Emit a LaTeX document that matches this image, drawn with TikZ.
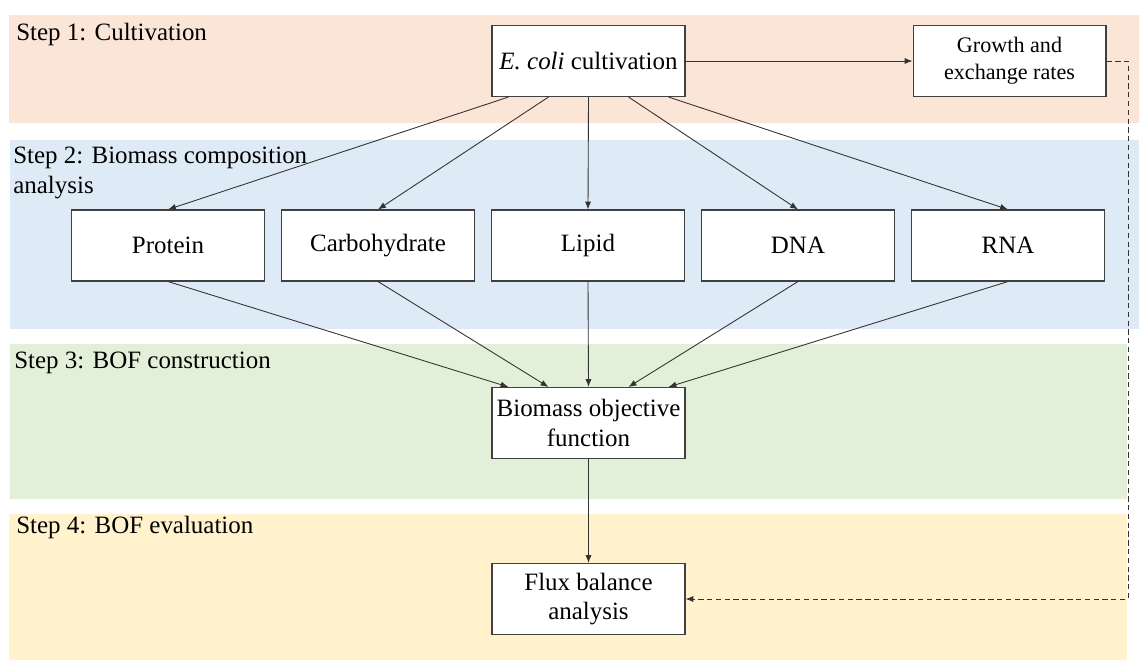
\documentclass[tikz,border=0pt]{standalone}
\usepackage{fontspec}
\setmainfont{Liberation Serif}
\usetikzlibrary{arrows.meta}

\definecolor{cultfill}{HTML}{FBE5D6}
\definecolor{compfill}{HTML}{DEEBF7}
\definecolor{constfill}{HTML}{E2F0D9}
\definecolor{evalfill}{HTML}{FFF2CC}

\newcommand{\boxfont}{\fontsize{14.2}{16.8}\selectfont}
\newcommand{\ratefont}{\fontsize{12.6}{15.4}\selectfont}

\tikzset{
	stagebox/.style = {draw = black!75, fill = white, line width = 0.6pt, minimum width = 3.86cm, minimum height = 1.42cm, align = center, inner sep = 1pt, font = \boxfont},
	steplabel/.style = {inner sep = 0pt, align = left, font = \boxfont},
	flow/.style = {-{Latex[length = 4.5pt, width = 3.5pt]}, draw = black!80, line width = 0.5pt},
}

\begin{document}
\begin{tikzpicture}[x = 0.02cm, y = -0.02cm]

\useasboundingbox (0,0) rectangle (1139, 660);

\fill[cultfill] (9, 15) rectangle (1139, 123);
\fill[compfill] (10, 140) rectangle (1139, 329);
\fill[constfill] (10, 344) rectangle (1127, 499);
\fill[evalfill] (9, 514) rectangle (1127, 660);

\node[steplabel, anchor = base west] (step1) at (16, 40) {Step 1: Cultivation};
\node[steplabel, anchor = north west] (step2) at (13, 147) {Step 2: Biomass composition\\analysis};
\node[steplabel, anchor = base west] (step3) at (14, 368) {Step 3: BOF construction};
\node[steplabel, anchor = base west] (step4) at (16, 533) {Step 4: BOF evaluation};

\node[stagebox] (ecoli) at (588.5, 61) {\textit{E. coli} cultivation};
\node[stagebox, font = \ratefont] (rates) at (1009.5, 61) {Growth and\\exchange rates};
\node[stagebox] (bof) at (588.5, 423) {Biomass objective\\function};
\node[stagebox] (flux) at (588.5, 599) {Flux balance\\analysis};

\foreach \name/\txt[count = \i from 0] in {protein/Protein, carb/Carbohydrate, lipid/Lipid, dna/DNA, rna/RNA} {
	\node[stagebox] (\name) at (168 + 210*\i, 245.5) {\txt};
	\draw[flow] ([xshift = (\i-2)*0.8cm]ecoli.south) -- (\name.north);
	\draw[flow] (\name.south) -- ([xshift = (\i-2)*0.8cm]bof.north);
}

\draw[flow] (ecoli) -- (rates);
\draw[flow] (bof) -- (flux);

\coordinate (bend) at (1128, 61);
\draw[flow, dashed, dash pattern = on 3pt off 2pt] (rates.east) -- (bend) |- (flux.east);

\end{tikzpicture}
\end{document}
